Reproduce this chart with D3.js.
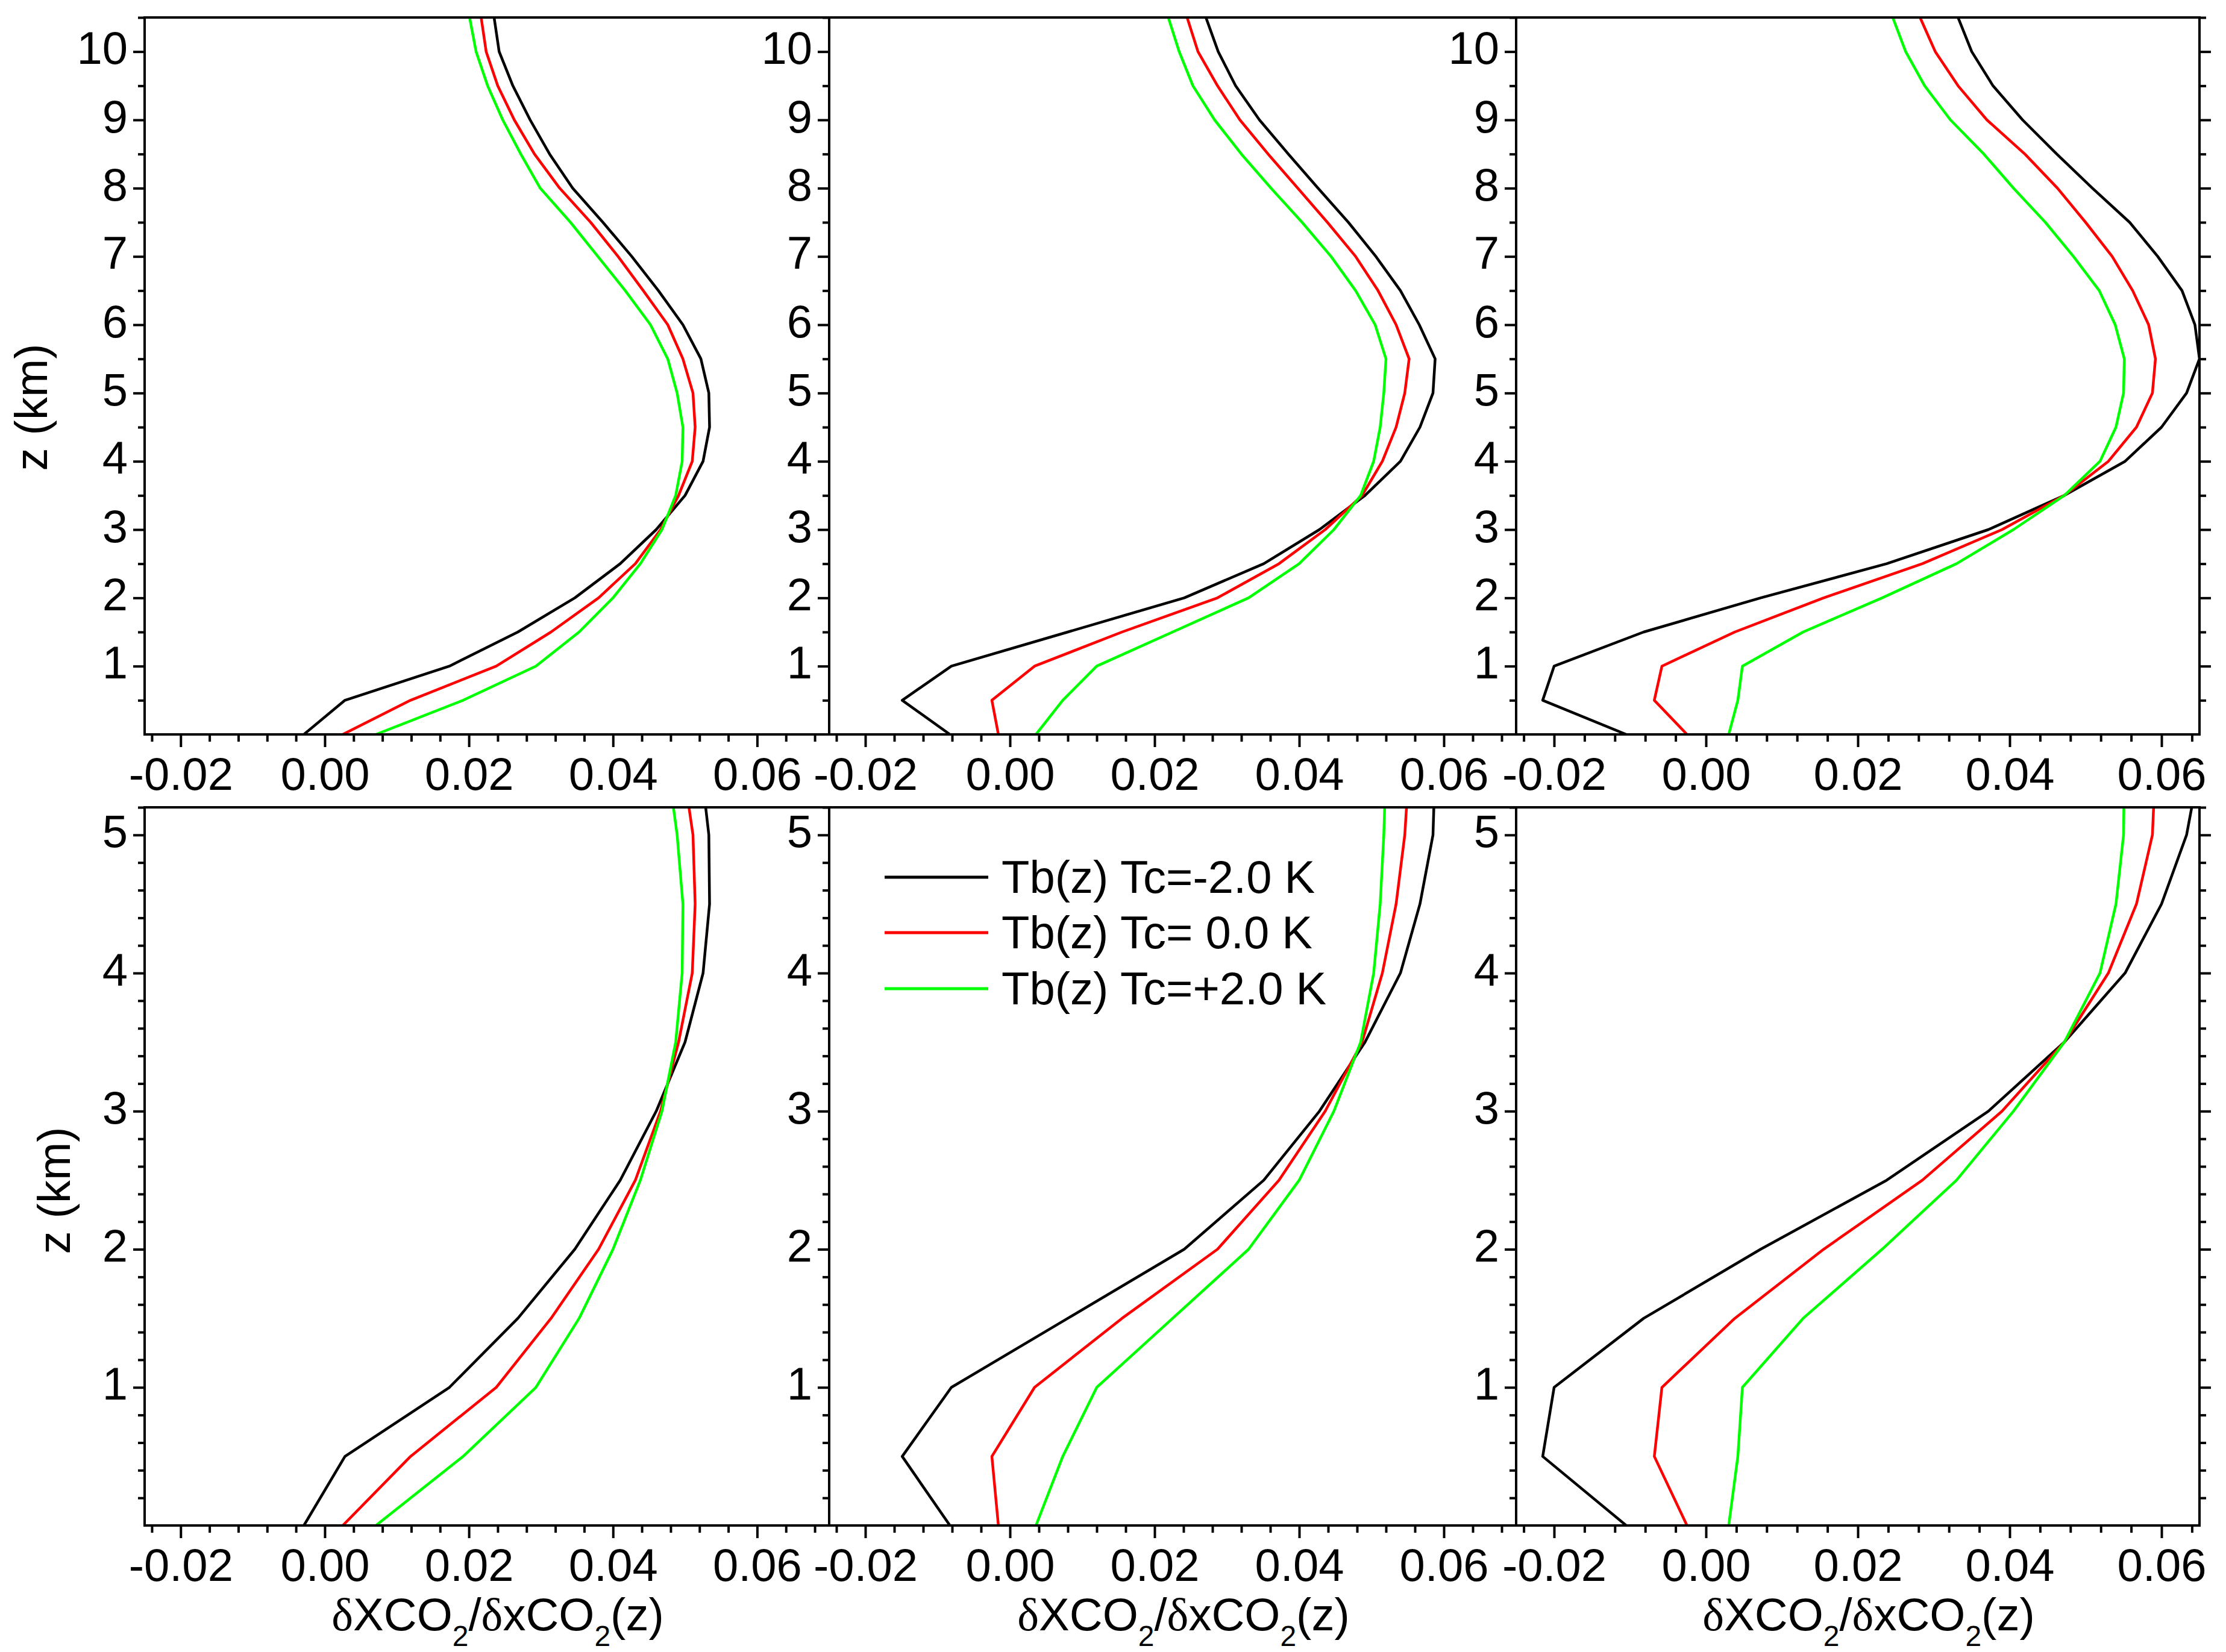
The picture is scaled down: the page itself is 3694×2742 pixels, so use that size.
<!DOCTYPE html>
<html><head><meta charset="utf-8">
<script src="https://cdn.jsdelivr.net/npm/d3@7"></script>
<style>html,body{margin:0;padding:0;background:#fff;} svg{display:block;}</style>
</head><body>
<svg id="chart" width="3694" height="2742"></svg>
<script>
// ---------------- data ----------------
const zLevels = [0,0.5,1,1.5,2,2.5,3,3.5,4,4.5,5,5.5,6,6.5,7,7.5,8,8.5,9,9.5,10,10.5];

const seriesNames  = ["Tb(z) Tc=-2.0 K", "Tb(z) Tc= 0.0 K", "Tb(z) Tc=+2.0 K"];
const seriesColors = ["#000000", "#ff0000", "#00ff00"];

// column 1
const case1Minus = [-0.0029,0.0028,0.0173,0.0268,0.0347,0.0410,0.0460,0.0500,0.0525,0.0534,0.0533,0.0522,0.0497,0.0463,0.0426,0.0386,0.0344,0.0312,0.0285,0.0261,0.0242,0.0235];
const case1Zero  = [0.0025,0.0119,0.0238,0.0314,0.0380,0.0431,0.0466,0.0491,0.0510,0.0514,0.0511,0.0497,0.0476,0.0442,0.0407,0.0369,0.0326,0.0291,0.0263,0.0240,0.0224,0.0217];
const case1Plus  = [0.0071,0.0192,0.0293,0.0353,0.0400,0.0438,0.0468,0.0487,0.0496,0.0497,0.0489,0.0476,0.0452,0.0417,0.0379,0.0341,0.0299,0.0272,0.0247,0.0226,0.0210,0.0201];

// column 2
const case2Minus = [-0.0083,-0.0149,-0.0081,0.0080,0.0241,0.0351,0.0428,0.0491,0.0540,0.0567,0.0585,0.0588,0.0566,0.0540,0.0506,0.0468,0.0426,0.0385,0.0345,0.0312,0.0288,0.0271];
const case2Zero  = [-0.0016,-0.0025,0.0034,0.0155,0.0287,0.0372,0.0436,0.0487,0.0515,0.0534,0.0546,0.0552,0.0534,0.0509,0.0478,0.0439,0.0398,0.0357,0.0318,0.0287,0.0260,0.0245];
const case2Plus  = [0.0036,0.0073,0.0120,0.0225,0.0330,0.0400,0.0448,0.0485,0.0503,0.0512,0.0517,0.0520,0.0505,0.0478,0.0444,0.0404,0.0361,0.0320,0.0283,0.0253,0.0234,0.0219];

// column 3
const case3Minus = [-0.0105,-0.0215,-0.0200,-0.0082,0.0072,0.0238,0.0372,0.0472,0.0552,0.0600,0.0633,0.0650,0.0644,0.0627,0.0595,0.0558,0.0509,0.0462,0.0417,0.0378,0.0350,0.0332];
const case3Zero  = [-0.0025,-0.0068,-0.0058,0.0038,0.0155,0.0285,0.0390,0.0472,0.0530,0.0567,0.0588,0.0592,0.0583,0.0562,0.0535,0.0500,0.0463,0.0420,0.0370,0.0332,0.0302,0.0282];
const case3Plus  = [0.0030,0.0042,0.0048,0.0128,0.0232,0.0330,0.0405,0.0472,0.0519,0.0540,0.0550,0.0551,0.0539,0.0518,0.0484,0.0447,0.0405,0.0366,0.0322,0.0288,0.0263,0.0246];

const xTickLabels   = [-0.02, 0.00, 0.02, 0.04, 0.06];
const topZTicks     = [1,2,3,4,5,6,7,8,9,10];
const bottomZTicks  = [1,2,3,4,5];
const xDomains = [[-0.025, 0.070], [-0.025, 0.070], [-0.025, 0.065]];
const zDomains = [[0, 10.5], [0, 5.2]];
const xTitle = ["XCO", "2", "/", "xCO", "2", "(z)"];
const zTitle = "z (km)";

const columns = [
  [case1Minus, case1Zero, case1Plus],
  [case2Minus, case2Zero, case2Plus],
  [case3Minus, case3Zero, case3Plus]
];

// ---------------- layout ----------------
const colX = [[240,1376],[1376,2516],[2516,3650]];
const rowY = [[29,1219],[1340,2532]];
const FONT = "'Liberation Sans', Arial, Helvetica, sans-serif";
const FS = 76;

const svg = d3.select("#chart");
svg.append("rect").attr("width",3694).attr("height",2742).attr("fill","#fff");

const defs = svg.append("defs");

function fmtX(d){ return (Math.abs(d) < 1e-12 ? 0 : d).toFixed(2); }

for (let r = 0; r < 2; r++) {
  for (let c = 0; c < 3; c++) {
    const [x0,x1] = colX[c], [y0,y1] = rowY[r];
    const x = d3.scaleLinear().domain(xDomains[c]).range([x0,x1]);
    const y = d3.scaleLinear().domain(zDomains[r]).range([y1,y0]);
    const g = svg.append("g");
    const clipId = `clip-${r}-${c}`;
    defs.append("clipPath").attr("id", clipId)
      .append("rect").attr("x",x0).attr("y",y0).attr("width",x1-x0).attr("height",y1-y0);

    const line = d3.line().x(d=>x(d[0])).y(d=>y(d[1])).curve(d3.curveLinear);
    const lg = g.append("g").attr("clip-path", `url(#${clipId})`);
    columns[c].forEach((vals, si) => {
      lg.append("path")
        .datum(vals.map((v,i)=>[v, zLevels[i]]))
        .attr("d", line)
        .attr("fill","none")
        .attr("stroke", seriesColors[si])
        .attr("stroke-width", 4.5)
        .attr("stroke-linejoin","round");
    });

    // frame
    g.append("rect").attr("x",x0).attr("y",y0).attr("width",x1-x0).attr("height",y1-y0)
      .attr("fill","none").attr("stroke","#000").attr("stroke-width",4);

    // x minor ticks
    const xmin = d3.range(-6, 18).map(i=>+(i*0.004).toFixed(4))
      .filter(v => v >= xDomains[c][0] && v <= xDomains[c][1] + 1e-9 && Math.abs(v*50 - Math.round(v*50)) > 1e-6);
    const axMinX = g.append("g").attr("transform",`translate(0,${y1})`)
      .call(d3.axisBottom(x).tickValues(xmin).tickSize(12).tickSizeOuter(0).tickFormat(""));
    const axMajX = g.append("g").attr("transform",`translate(0,${y1})`)
      .call(d3.axisBottom(x).tickValues(xTickLabels).tickSize(21).tickSizeOuter(0).tickFormat(fmtX));
    [axMinX, axMajX].forEach(a => { a.select(".domain").remove(); a.selectAll("line").attr("stroke","#000").attr("stroke-width",4); });
    axMajX.selectAll("text").attr("y", 92).attr("dy", null)
      .attr("font-family", FONT).attr("font-size", FS).attr("fill","#000");

    // y ticks
    const zt = r === 0 ? topZTicks : bottomZTicks;
    const zmin = r === 0 ? d3.range(1,22).map(i=>i*0.5).filter(v=>Math.abs(v-Math.round(v))>1e-6)
                         : d3.range(1,27).map(i=>+(i*0.2).toFixed(2)).filter(v=>Math.abs(v-Math.round(v))>1e-6);
    const axMinY = g.append("g").attr("transform",`translate(${x0},0)`)
      .call(d3.axisLeft(y).tickValues(zmin).tickSize(11).tickSizeOuter(0).tickFormat(""));
    const axMajY = g.append("g").attr("transform",`translate(${x0},0)`)
      .call(d3.axisLeft(y).tickValues(zt).tickSize(19).tickSizeOuter(0).tickFormat(d=>String(d)));
    [axMinY, axMajY].forEach(a => { a.select(".domain").remove(); a.selectAll("line").attr("stroke","#000").attr("stroke-width",4); });
    axMajY.selectAll("text").attr("x", -28).attr("y", 20).attr("dy", null)
      .attr("font-family", FONT).attr("font-size", FS).attr("fill","#000");

    if (c === 2) {
      const rMin = g.append("g").attr("transform",`translate(${x1},0)`)
        .call(d3.axisRight(y).tickValues(zmin).tickSize(11).tickSizeOuter(0).tickFormat(""));
      const rMaj = g.append("g").attr("transform",`translate(${x1},0)`)
        .call(d3.axisRight(y).tickValues(zt).tickSize(19).tickSizeOuter(0).tickFormat(""));
      [rMin, rMaj].forEach(a => { a.select(".domain").remove(); a.selectAll("line").attr("stroke","#000").attr("stroke-width",4); });
    }

    // x title on bottom row
    if (r === 1) {
      const t = svg.append("text")
        .attr("x", (x0+x1)/2 + 18).attr("y", 2706)
        .attr("text-anchor","middle")
        .attr("font-family", FONT).attr("font-size", FS).attr("fill","#000");
      t.append("tspan").attr("font-family","'Liberation Serif','Times New Roman',serif").text("δ");
      t.append("tspan").text(xTitle[0]);
      t.append("tspan").attr("font-size",48).attr("dy",26).text(xTitle[1]);
      t.append("tspan").attr("dy",-26).text(xTitle[2]);
      t.append("tspan").attr("font-family","'Liberation Serif','Times New Roman',serif").text("δ");
      t.append("tspan").text(xTitle[3]);
      t.append("tspan").attr("font-size",48).attr("dy",26).text(xTitle[4]);
      t.append("tspan").attr("dy",-26).text(xTitle[5]);
    }
  }
}

// y titles
[[78, 676],[116, 1976]].forEach(([bx, cy]) => {
  svg.append("text")
    .attr("transform", `translate(${bx},${cy}) rotate(-90)`)
    .attr("text-anchor","middle")
    .attr("font-family", FONT).attr("font-size", FS).attr("fill","#000")
    .text(zTitle);
});

// legend
const legY = [1456, 1548, 1641];
const leg = svg.append("g");
seriesNames.forEach((name, i) => {
  leg.append("line").attr("x1",1468).attr("x2",1640).attr("y1",legY[i]).attr("y2",legY[i])
    .attr("stroke", seriesColors[i]).attr("stroke-width",5);
  leg.append("text").attr("x",1662).attr("y",legY[i]+26)
    .attr("font-family", FONT).attr("font-size", FS).attr("fill","#000")
    .attr("xml:space","preserve").style("white-space","pre")
    .text(name);
});
</script>
</body></html>
